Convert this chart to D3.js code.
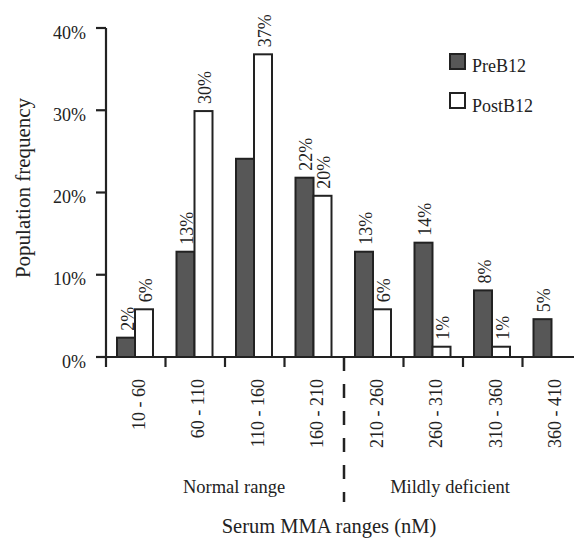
<!DOCTYPE html>
<html><head><meta charset="utf-8">
<script src="https://cdn.jsdelivr.net/npm/d3@7"></script>
<style>body{margin:0;background:#fff}svg{display:block}text{font-family:"Liberation Serif","Times New Roman",Times,serif;fill:#222}</style>
</head><body>
<script>
const categories = ["10 - 60","60 - 110","110 - 160","160 - 210","210 - 260","260 - 310","310 - 360","360 - 410"];
const series = ["PreB12","PostB12"];
const preValues  = [2.35, 12.8, 24.1, 21.8, 12.8, 13.9, 8.1, 4.6];
const postValues = [5.8, 29.9, 36.8, 19.6, 5.8, 1.25, 1.25, null];
const preLabels  = ["2%","13%","","22%","13%","14%","8%","5%"];
const postLabels = ["6%","30%","37%","20%","6%","1%","1%",""];
const yTicks = [0,10,20,30,40];
const yTickLabels = ["0%","10%","20%","30%","40%"];
const groupLabels = ["Normal range","Mildly deficient"];
const xTitle = "Serum MMA ranges (nM)";
const yTitle = "Population frequency";

const W=574,H=538;
const svg=d3.select("body").append("svg").attr("width",W).attr("height",H);
const x=d3.scaleBand().domain(categories).range([106,106+8*59.5]);
const xs=d3.scaleBand().domain(series).range([11,47]);
const y=d3.scaleLinear().domain([0,40]).range([357,28]);
const fills={PreB12:"#575757",PostB12:"#ffffff"};
const stroke="#222";

// bars
const rows=categories.map((c,i)=>({c,vals:[{s:"PreB12",v:preValues[i],l:preLabels[i]},{s:"PostB12",v:postValues[i],l:postLabels[i]}]}));
const g=svg.append("g");
rows.forEach(r=>{
  r.vals.forEach(d=>{
    if(d.v==null) return;
    const bx=x(r.c)+xs(d.s), bw=xs.bandwidth();
    g.append("rect").attr("x",bx).attr("y",y(d.v)).attr("width",bw).attr("height",y(0)-y(d.v))
      .attr("fill",fills[d.s]).attr("stroke",stroke).attr("stroke-width",2);
    if(d.l){
      g.append("text").attr("transform",`translate(${bx+bw/2+7.5},${y(d.v)-7}) rotate(-90)`)
        .attr("text-anchor","start").attr("font-size",18).text(d.l);
    }
  });
});

// y axis
const ya=svg.append("g");
ya.append("line").attr("x1",106).attr("x2",106).attr("y1",y(40)).attr("y2",367).attr("stroke",stroke).attr("stroke-width",2.2);
yTicks.forEach((t,i)=>{
  ya.append("line").attr("x1",96).attr("x2",106).attr("y1",y(t)).attr("y2",y(t)).attr("stroke",stroke).attr("stroke-width",2.2);
  ya.append("text").attr("x",86).attr("y",y(t)+10.5).attr("text-anchor","end").attr("font-size",18).text(yTickLabels[i]);
});
// x axis
svg.append("line").attr("x1",96).attr("x2",W).attr("y1",y(0)).attr("y2",y(0)).attr("stroke",stroke).attr("stroke-width",2.2);
categories.forEach((c,i)=>{
  const bx=x(c);
  if(i===4){
    svg.append("line").attr("x1",bx).attr("x2",bx).attr("y1",y(0)).attr("y2",502).attr("stroke",stroke).attr("stroke-width",2.5).attr("stroke-dasharray","14,13");
  } else if(i>0){
    svg.append("line").attr("x1",bx).attr("x2",bx).attr("y1",y(0)).attr("y2",367).attr("stroke",stroke).attr("stroke-width",2.2);
  }
  svg.append("text").attr("transform",`translate(${bx+x.bandwidth()/2+9},379) rotate(-90)`)
    .attr("text-anchor","end").attr("font-size",18).text(c);
});
svg.append("text").attr("x",x(categories[2])+9).attr("y",493).attr("text-anchor","middle").attr("font-size",18.5).text(groupLabels[0]);
svg.append("text").attr("x",x(categories[6])-13).attr("y",493).attr("text-anchor","middle").attr("font-size",18.5).text(groupLabels[1]);
svg.append("text").attr("x",329).attr("y",533).attr("text-anchor","middle").attr("font-size",20.5).text(xTitle);
svg.append("text").attr("transform","translate(30,188) rotate(-90)").attr("text-anchor","middle").attr("font-size",21).text(yTitle);

// legend
series.forEach((s,i)=>{
  svg.append("rect").attr("x",450).attr("y",54+i*39).attr("width",15).attr("height",15).attr("fill",fills[s]).attr("stroke",stroke).attr("stroke-width",2);
  svg.append("text").attr("x",472).attr("y",72+i*39.5).attr("font-size",18).text(s);
});
</script>
</body></html>
